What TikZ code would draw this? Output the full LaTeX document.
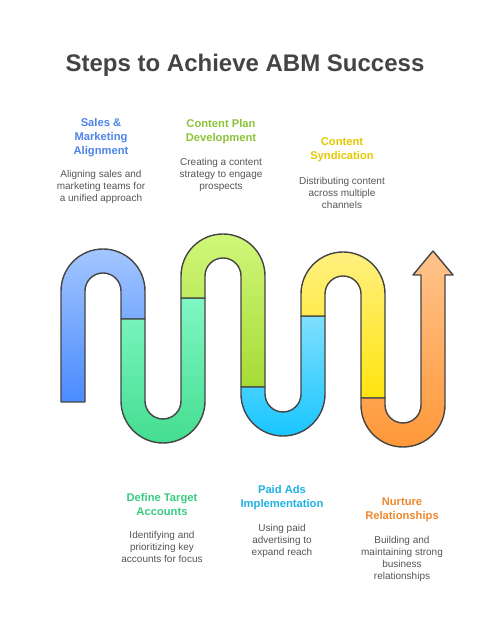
\documentclass[tikz,border=0pt]{standalone}
\usepackage{fontspec}
\setmainfont{Liberation Sans}
\usepackage{tikz}
\usetikzlibrary{positioning}
\definecolor{outline}{RGB}{68,68,68}
\definecolor{bodygray}{RGB}{85,85,85}
\definecolor{salesblue}{RGB}{76,132,232}
\definecolor{targetgreen}{RGB}{56,204,128}
\definecolor{planlime}{RGB}{140,194,56}
\definecolor{adscyan}{RGB}{30,178,228}
\definecolor{syndyellow}{RGB}{228,200,0}
\definecolor{nurtureorange}{RGB}{238,136,48}

\begin{document}
\begin{tikzpicture}[
    x=1pt, y=1pt,
    tube/.style={draw=outline, line width=1.4pt, line join=round},
    heading/.style={align=center, font=\fontsize{11.2}{14}\selectfont\bfseries, inner sep=0pt},
    desc/.style={align=center, font=\fontsize{10}{12}\selectfont, text=bodygray, inner sep=0pt}
  ]
    \useasboundingbox (0,0) rectangle (486,631);

    % Title
    \node[font=\fontsize{24}{28}\selectfont\bfseries, text=outline] (title) at (245,566) {Steps to Achieve ABM Success};

    % Winding path, one piece per step
    \draw[tube, top color={rgb,255:red,163;green,198;blue,255}, bottom color={rgb,255:red,74;green,139;blue,255}]
      (61,229) -- (61,340) arc[start angle=180, end angle=0, radius=42] -- (145,312) -- (121,312)
      -- (121,340) arc[start angle=0, end angle=180, radius=18] -- (85,229) -- cycle;
    \draw[tube, top color={rgb,255:red,128;green,247;blue,196}, bottom color={rgb,255:red,68;green,221;blue,144}]
      (121,312) -- (121,230) arc[start angle=180, end angle=360, radius=42] -- (205,333) -- (181,333)
      -- (181,230) arc[start angle=0, end angle=-180, radius=18] -- (145,312) -- cycle;
    \draw[tube, top color={rgb,255:red,208;green,247;blue,122}, bottom color={rgb,255:red,166;green,219;blue,53}]
      (181,333) -- (181,355) arc[start angle=180, end angle=0, radius=42] -- (265,244) -- (241,244)
      -- (241,355) arc[start angle=0, end angle=180, radius=18] -- (205,333) -- cycle;
    \draw[tube, top color={rgb,255:red,128;green,223;blue,255}, bottom color={rgb,255:red,24;green,198;blue,255}]
      (241,244) -- (241,237) arc[start angle=180, end angle=360, radius=42] -- (325,315) -- (301,315)
      -- (301,237) arc[start angle=0, end angle=-180, radius=18] -- (265,244) -- cycle;
    \draw[tube, top color={rgb,255:red,255;green,240;blue,128}, bottom color={rgb,255:red,255;green,228;blue,15}]
      (301,315) -- (301,337) arc[start angle=180, end angle=0, radius=42] -- (385,233) -- (361,233)
      -- (361,337) arc[start angle=0, end angle=180, radius=18] -- (325,315) -- cycle;
    \draw[tube, top color={rgb,255:red,255;green,195;blue,140}, bottom color={rgb,255:red,255;green,152;blue,56}]
      (361,233) -- (361,226) arc[start angle=180, end angle=360, radius=42] -- (445,356) -- (453,356)
      -- (433,380) -- (413,356) -- (421,356) -- (421,226) arc[start angle=0, end angle=-180, radius=18]
      -- (385,233) -- cycle;

    % Upper labels
    \node[heading, text=salesblue] (sales) at (101,493) {Sales \&\\Marketing\\Alignment};
    \node[desc] (salesdesc) at (101,444) {Aligning sales and\\marketing teams for\\a unified approach};

    \node[heading, text=planlime] (plan) at (221,499) {Content Plan\\Development};
    \node[desc] (plandesc) at (221,456) {Creating a content\\strategy to engage\\prospects};

    \node[heading, text=syndyellow] (synd) at (342,481) {Content\\Syndication};
    \node[desc] (synddesc) at (342,438) {Distributing content\\across multiple\\channels};

    % Lower labels
    \node[heading, text=targetgreen] (target) at (162,127) {Define Target\\Accounts};
    \node[desc] (targetdesc) at (162,84) {Identifying and\\prioritizing key\\accounts for focus};

    \node[heading, text=adscyan] (ads) at (282,133) {Paid Ads\\Implementation};
    \node[desc] (adsdesc) at (282,90) {Using paid\\advertising to\\expand reach};

    \node[heading, text=nurtureorange] (nurture) at (402,121) {Nurture\\Relationships};
    \node[desc] (nurturedesc) at (402,72) {Building and\\maintaining strong\\business\\relationships};
  \end{tikzpicture}
\end{document}
